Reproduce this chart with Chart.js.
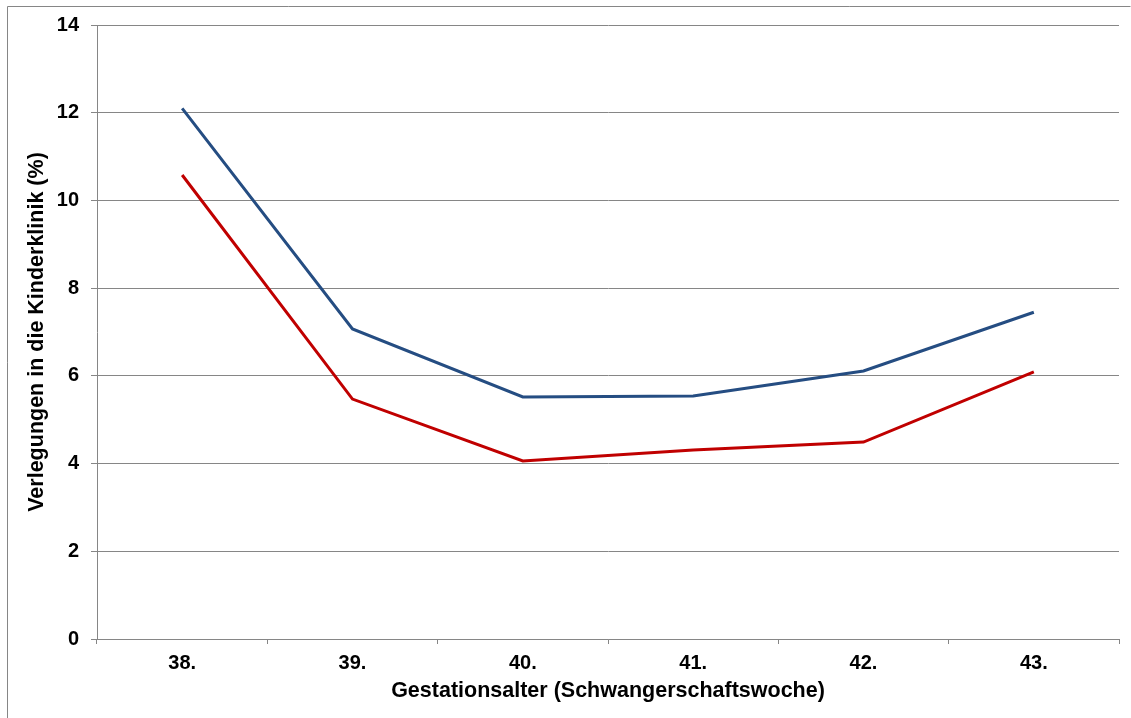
<!DOCTYPE html>
<html>
<head>
<meta charset="utf-8">
<script src="https://cdn.jsdelivr.net/npm/chart.js@4/dist/chart.umd.min.js"></script>
<style>
  html, body { margin: 0; padding: 0; background: #fff; }
  #wrap { width: 1131px; height: 718px; }
</style>
</head>
<body>
<div id="wrap"><canvas id="chart" width="1131" height="718"></canvas></div>
<script>
// ── Data ───────────────────────────────────────────────────────
const weeks    = ['38.', '39.', '40.', '41.', '42.', '43.'];
const blueLine = [12.1, 7.07, 5.52, 5.54, 6.11, 7.45];
const redLine  = [10.58, 5.47, 4.06, 4.31, 4.49, 6.09];
const yTicks   = { min: 0, max: 14, step: 2 };

const FAMILY     = "'Liberation Sans', Arial, sans-serif";
const TICK_FONT  = { family: FAMILY, size: 20, weight: 'bold' };
const TITLE_FONT = { family: FAMILY, size: 21.5, weight: 'bold' };
const GREY       = '#868686';

// outer frame (left/top edges visible, rest off-canvas)
const framePlugin = {
  id: 'frame',
  beforeDraw(chart) {
    const c = chart.ctx;
    c.save();
    c.fillStyle = '#fff';
    c.fillRect(0, 0, chart.width, chart.height);
    c.strokeStyle = GREY;
    c.lineWidth = 1;
    c.beginPath();
    c.moveTo(7.5, chart.height);
    c.lineTo(7.5, 6.5);
    c.lineTo(1130.5, 6.5);
    c.stroke();
    c.restore();
  },
};

new Chart(document.getElementById('chart'), {
  type: 'line',
  data: {
    labels: weeks,
    datasets: [
      { data: blueLine, borderColor: '#254D82', borderWidth: 3, pointRadius: 0, tension: 0 },
      { data: redLine,  borderColor: '#C00000', borderWidth: 3, pointRadius: 0, tension: 0 },
    ],
  },
  options: {
    responsive: false,
    animation: false,
    layout: { padding: { top: 25, right: 12, left: 0, bottom: 0 } },
    plugins: { legend: { display: false }, tooltip: { enabled: false } },
    scales: {
      x: {
        offset: true,
        afterFit: s => { s.height = 79; },
        grid: { offset: true, drawOnChartArea: false, drawTicks: true, tickLength: 5, color: GREY },
        border: { color: GREY, width: 1 },
        ticks: { font: TICK_FONT, color: '#000', padding: 7, maxRotation: 0 },
        title: {
          display: true,
          text: 'Gestationsalter (Schwangerschaftswoche)',
          font: TITLE_FONT, color: '#000',
          padding: { top: 0, bottom: 14 },
        },
      },
      y: {
        min: yTicks.min,
        max: yTicks.max,
        afterFit: s => { s.width = 97; },
        grid: { color: GREY, tickLength: 6, lineWidth: 1 },
        border: { color: GREY, width: 1 },
        ticks: { stepSize: yTicks.step, font: TICK_FONT, color: '#000', padding: 12 },
        title: {
          display: true,
          text: 'Verlegungen in die Kinderklinik (%)',
          font: TITLE_FONT, color: '#000',
          padding: { top: 24, bottom: 0 },
        },
      },
    },
  },
  plugins: [framePlugin],
});
</script>
</body>
</html>
